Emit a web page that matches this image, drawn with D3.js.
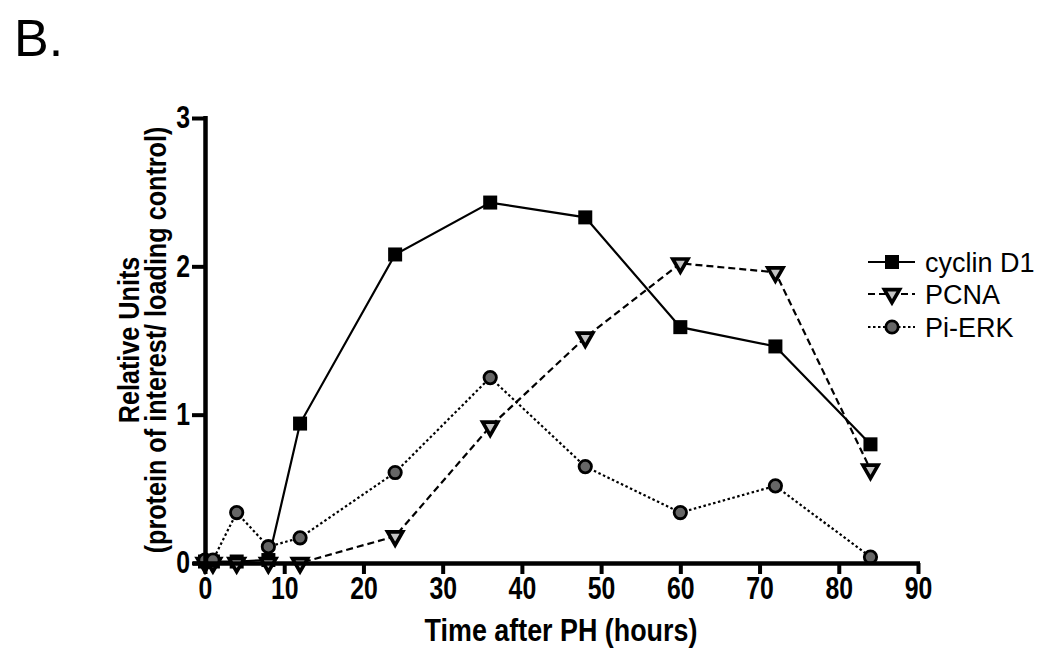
<!DOCTYPE html>
<html><head><meta charset="utf-8">
<script src="https://cdn.jsdelivr.net/npm/d3@7"></script>
<style>
body{margin:0;background:#fff;}
</style></head>
<body>
<svg id="c" width="1050" height="657"></svg>
<script>
const times = [0,1,4,8,12,24,36,48,60,72,84];
const cyclinD1 = [0.01,0.01,0.01,0.02,0.94,2.08,2.43,2.33,1.59,1.46,0.80];
const pcna = [0.0,0.0,0.0,0.0,0.0,0.18,0.92,1.52,2.02,1.96,0.63];
const piErk = [0.02,0.02,0.34,0.11,0.17,0.61,1.25,0.65,0.34,0.52,0.04];
const xTicks = [0,10,20,30,40,50,60,70,80,90];
const yTicks = [0,1,2,3];
const seriesNames = ["cyclin D1","PCNA","Pi-ERK"];

const svg = d3.select("#c");
const x = d3.scaleLinear().domain([0,90]).range([205,918]);
const y = d3.scaleLinear().domain([0,3]).range([563,118]);
const bold = '"Liberation Sans",Arial,sans-serif';
const SX = 0.8;

svg.append("text").attr("x",14).attr("y",56).attr("font-family",bold)
  .attr("font-size",52).text("B.");

const styles = [
  {dash:null, sym:"square"},
  {dash:"7,4", sym:"tri"},
  {dash:"2.5,2.5", sym:"circle"}
];
const allData = [cyclinD1,pcna,piErk];

function drawMarker(g, sym, cx, cy){
  if(sym==="square"){
    g.append("rect").attr("x",cx-7).attr("y",cy-7).attr("width",14).attr("height",14).attr("fill","#000");
  } else if(sym==="tri"){
    g.append("path").attr("d",d3.symbol().type(d3.symbolTriangle).size(100)())
      .attr("transform",`translate(${cx},${cy}) rotate(180)`)
      .attr("fill","#c4c4c4").attr("stroke","#000").attr("stroke-width",3.6).attr("stroke-linejoin","miter");
  } else {
    g.append("circle").attr("cx",cx).attr("cy",cy).attr("r",6.2).attr("fill","#666")
      .attr("stroke","#000").attr("stroke-width",2.8);
  }
}

const line = d3.line().x(d=>x(d[0])).y(d=>y(d[1]));
allData.forEach((vals,i)=>{
  const pts = times.map((t,j)=>[t,vals[j]]);
  svg.append("path").attr("d",line(pts)).attr("fill","none").attr("stroke","#000")
    .attr("stroke-width",2.2).attr("stroke-dasharray",styles[i].dash);
});
allData.forEach((vals,i)=>{
  const g = svg.append("g");
  times.forEach((t,j)=>drawMarker(g, styles[i].sym, x(t), y(vals[j])));
});

// axes (on top of markers)
const xa = svg.append("g").attr("transform","translate(0,563)")
  .call(d3.axisBottom(x).tickValues(xTicks).tickSize(11).tickPadding(3).tickFormat(d3.format("d")));
const ya = svg.append("g").attr("transform","translate(205,0)")
  .call(d3.axisLeft(y).tickValues(yTicks).tickSize(13).tickPadding(3).tickFormat(d3.format("d")));
[xa,ya].forEach(g=>{
  g.select(".domain").attr("stroke","#000").attr("stroke-width",4.5);
  g.selectAll(".tick line").attr("stroke","#000").attr("stroke-width",4);
  g.selectAll(".tick text").attr("font-size",31).attr("fill","#000")
    .attr("font-family",bold).attr("font-weight","bold");
});
xa.select(".domain").attr("d",`M${x(0)-12},0.5H${x(90)+2}`);
ya.select(".domain").attr("d",`M0.5,${y(0)+2}V${y(3)-2}`);
xa.selectAll(".tick text").attr("transform",`scale(${SX},1)`);
ya.selectAll(".tick text").attr("x",0).attr("transform",`translate(-15,0) scale(${SX},1)`);

svg.append("text").attr("transform",`translate(561,641) scale(0.84,1)`).attr("text-anchor","middle")
  .attr("font-family",bold).attr("font-weight","bold").attr("font-size",32).text("Time after PH (hours)");
const yt = svg.append("g").attr("transform","translate(0,340) rotate(-90)");
yt.append("text").attr("transform",`translate(0,139) scale(0.84,1)`).attr("text-anchor","middle")
  .attr("font-family",bold).attr("font-weight","bold").attr("font-size",30).text("Relative Units");
yt.append("text").attr("transform",`translate(0,166) scale(0.84,1)`).attr("text-anchor","middle")
  .attr("font-family",bold).attr("font-weight","bold").attr("font-size",30).text("(protein of interest/ loading control)");

// legend
const legY = [262,294,327];
seriesNames.forEach((n,i)=>{
  svg.append("line").attr("x1",868).attr("x2",915).attr("y1",legY[i]).attr("y2",legY[i])
    .attr("stroke","#000").attr("stroke-width",2.2).attr("stroke-dasharray",styles[i].dash);
  drawMarker(svg, styles[i].sym, 892, legY[i]);
  svg.append("text").attr("x",925).attr("y",legY[i]).attr("dy","0.36em")
    .attr("font-family",bold).attr("font-size",27).text(n);
});
</script>
</body></html>
